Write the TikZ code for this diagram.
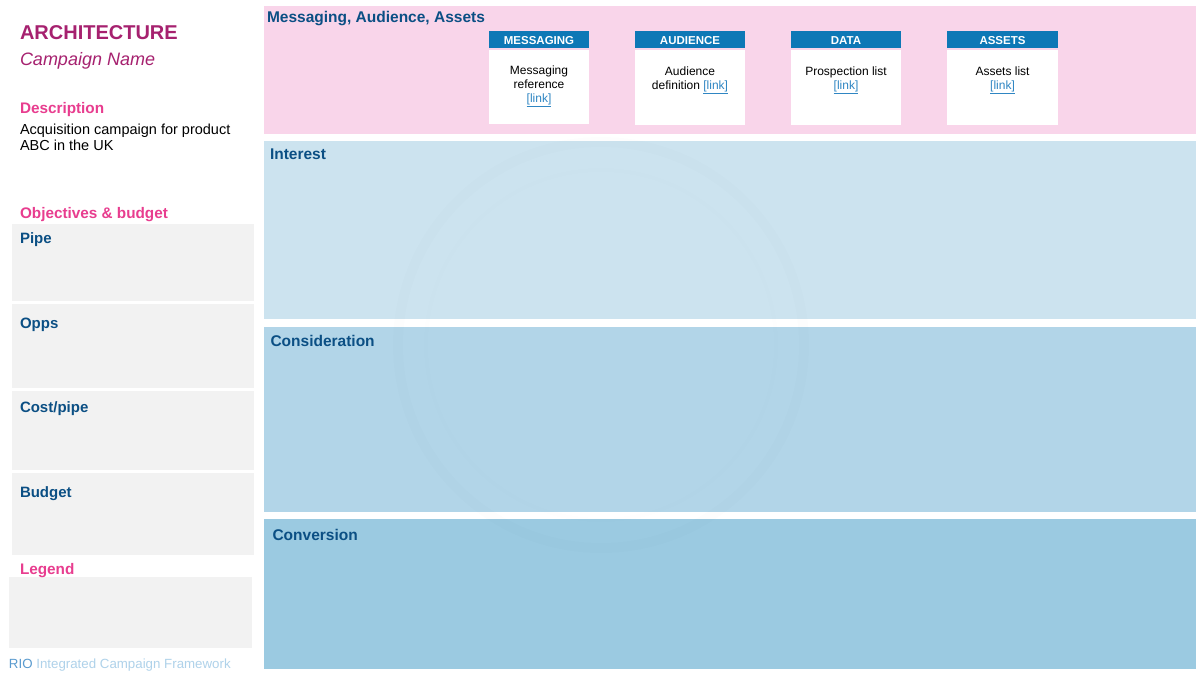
\documentclass[tikz,border=0pt]{standalone}
\usepackage{fontspec}
\setmainfont{Liberation Sans}
\definecolor{archcol}{HTML}{A6216F}
\definecolor{pinkhead}{HTML}{E83D8F}
\definecolor{navy}{HTML}{0B4F84}
\definecolor{pinkband}{HTML}{F9D5EA}
\definecolor{interestcol}{HTML}{CCE3EF}
\definecolor{considcol}{HTML}{B2D5E8}
\definecolor{convcol}{HTML}{9BCAE1}
\definecolor{greybox}{HTML}{F2F2F2}
\definecolor{cardhead}{HTML}{0E78B6}
\definecolor{linkcol}{HTML}{2F86C3}
\definecolor{riocol}{HTML}{5A9BCF}
\definecolor{framecol}{HTML}{AFD2EA}
\tikzset{
  txt/.style={anchor=base west, inner sep=0pt, outer sep=0pt},
  sechead/.style={txt, font=\fontsize{15.5}{18}\selectfont\bfseries, text=navy},
  boxhead/.style={txt, font=\fontsize{15}{18}\selectfont\bfseries, text=navy},
  pinklbl/.style={txt, font=\fontsize{15.3}{17}\selectfont\bfseries, text=pinkhead},
  cardtitle/.style={anchor=base, inner sep=0pt, font=\fontsize{11.5}{13}\selectfont\bfseries, text=white},
  cardbody/.style={anchor=base, inner sep=0pt, align=center, font=\fontsize{12}{14}\selectfont, text=black},
}
\newcommand{\lnk}{\textcolor{linkcol}{\underline{[link]}}}
\begin{document}
\begin{tikzpicture}[x=1pt,y=-1pt]
\useasboundingbox (0,0) rectangle (1204,678);
\fill[white] (0,0) rectangle (1204,678);
% right-hand bands
\fill[pinkband] (264,6) rectangle (1196,134);
\fill[interestcol] (264,141) rectangle (1196,319);
\fill[considcol] (264,327) rectangle (1196,512);
\fill[convcol] (264,519) rectangle (1196,669);
% faint watermark
\draw[black, opacity=0.007, line width=10pt] (601,345) circle[radius=203];
\draw[black, opacity=0.004, line width=4pt] (601,345) circle[radius=175];
% left grey boxes
\fill[greybox] (12,224) rectangle (254,301);
\fill[greybox] (12,304) rectangle (254,388);
\fill[greybox] (12,391) rectangle (254,470);
\fill[greybox] (12,473) rectangle (254,555);
\fill[greybox] (9,577) rectangle (252,648);
% cards
\foreach \n/\xa/\xb/\yb in {m/489/589/124, a/635/745/125, d/791/901/125, s/947/1058/125}{
  \fill[cardhead] (\xa,31) rectangle (\xb,47.5);
  \fill[white] (\xa,50) rectangle (\xb,\yb);
}
\node[cardtitle] (tm) at (539,44) {MESSAGING};
\node[cardtitle] (ta) at (690,44) {AUDIENCE};
\node[cardtitle] (td) at (846,44) {DATA};
\node[cardtitle] (ts) at (1002.5,44) {ASSETS};
\node[cardbody] (bm) at (539,102.5) {Messaging\\reference\\\lnk};
\node[cardbody] (ba) at (690,89.5) {Audience\\definition \lnk};
\node[cardbody] (bd) at (846,89.5) {Prospection list\\\lnk};
\node[cardbody] (bs) at (1002.5,89.5) {Assets list\\\lnk};
% section headings
\node[sechead] (hmaa) at (267,22) {Messaging, Audience, Assets};
\node[sechead] (hint) at (270,159) {Interest};
\node[sechead] (hcon) at (270.5,346) {Consideration};
\node[sechead] (hconv) at (272.5,540.5) {Conversion};
% left column
\node[txt, font=\fontsize{20}{24}\selectfont\bfseries, text=archcol] (arch) at (20,39.5) {ARCHITECTURE};
\node[txt, font=\fontsize{18}{20}\selectfont\itshape, text=archcol] (cname) at (20,65.5) {Campaign Name};
\node[pinklbl] (desc) at (20,113.5) {Description};
\node[txt, align=left, font=\fontsize{14.5}{16}\selectfont, text=black] (desctxt) at (20,150) {Acquisition campaign for product\\ABC in the UK};
\node[pinklbl] (obj) at (20,218) {Objectives \& budget};
\node[boxhead] (pipe) at (20,243) {Pipe};
\node[boxhead] (opps) at (20,328) {Opps};
\node[boxhead] (cost) at (20,412) {Cost/pipe};
\node[boxhead] (budget) at (20,497) {Budget};
\node[pinklbl] (legend) at (20,574) {Legend};
\node[txt, font=\fontsize{13.3}{16}\selectfont, text=framecol] (rio) at (9,668) {\textcolor{riocol}{RIO} Integrated Campaign Framework};
\end{tikzpicture}
\end{document}
